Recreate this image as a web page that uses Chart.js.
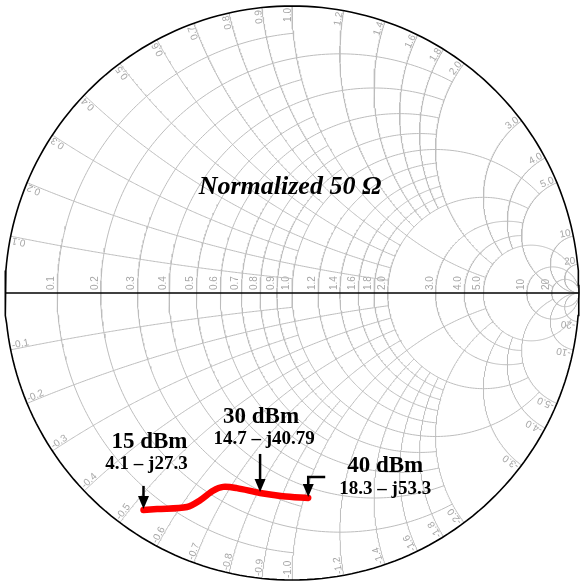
<!DOCTYPE html>
<html>
<head>
<meta charset="utf-8">
<script src="https://cdn.jsdelivr.net/npm/chart.js@4.4.0/dist/chart.umd.min.js"></script>
<style>
html, body { margin: 0; padding: 0; background: #fff; }
#wrap { width: 586px; height: 586px; }
</style>
</head>
<body>
<div id="wrap"><canvas id="smith"></canvas></div>
<script>
// reference impedance
var Z0 = 50;

// grid ticks (normalized) and how far each line runs
var resistanceTicks = [0.1, 0.2, 0.3, 0.4, 0.5, 0.6, 0.7, 0.8, 0.9, 1.0, 1.2, 1.4, 1.6, 1.8, 2.0, 3.0, 4.0, 5.0, 10, 20];
var resistanceReach = [1, 2, 1, 2, 1, 2, 1, 2, 1, 5, 2, 2, 2, 2, 5, 5, 5, 20, Infinity, Infinity];
var reactanceTicks = [0.1, 0.2, 0.3, 0.4, 0.5, 0.6, 0.7, 0.8, 0.9, 1.0, 1.2, 1.4, 1.6, 1.8, 2.0, 3.0, 4.0, 5.0, 10, 20];
var reactanceReach = [1, 2, 1, 2, 1, 2, 1, 2, 1, 5, 2, 2, 2, 2, 5, 5, 5, 20, Infinity, Infinity];

// measured load impedance (ohms) vs input power
var traceR = [2.8, 3.9, 6.4, 8.3, 10.7, 12.2, 13.3, 14.6, 15.9, 17.4];
var traceX = [-26.3, -27.6, -30.8, -31.9, -32.8, -33.9, -36.1, -40.5, -45.2, -51.0];

// highlighted points
var markerIndex = [0, 7, 9];
var markerPower = ['15 dBm', '30 dBm', '40 dBm'];
var markerImpedance = ['4.1 \u2013 j27.3', '14.7 \u2013 j40.79', '18.3 \u2013 j53.3'];

var titleText = 'Normalized 50 \u03A9';

// z = r + jx  ->  reflection coefficient
function gammaOf(r, x) {
  var d = (r + 1) * (r + 1) + x * x;
  return { x: (r * r + x * x - 1) / d, y: 2 * x / d };
}

function fmt(v) {
  var a = Math.abs(v);
  var s = a >= 10 ? String(a) : a.toFixed(1);
  return v < 0 ? '-' + s : s;
}

function resistanceCurve(r, xmax) {
  var c = r / (1 + r), rho = 1 / (1 + r);
  var start = 0;
  if (isFinite(xmax)) {
    var g = gammaOf(r, xmax);
    start = Math.atan2(g.y, g.x - c);
  }
  var pts = [], n = 240;
  for (var i = 0; i <= n; i++) {
    var a = start + (2 * Math.PI - 2 * start) * i / n;
    pts.push({ x: c + rho * Math.cos(a), y: rho * Math.sin(a) });
  }
  return pts;
}

function reactanceCurve(x, rmax) {
  var ax = Math.abs(x), cy = 1 / ax, rho = 1 / ax;
  var sign = x < 0 ? -1 : 1;
  var g0 = gammaOf(0, ax);
  var a0 = Math.atan2(g0.y - cy, g0.x - 1);
  if (a0 < 0) a0 += 2 * Math.PI;
  var a1 = 1.5 * Math.PI;
  if (isFinite(rmax)) {
    var g1 = gammaOf(rmax, ax);
    a1 = Math.atan2(g1.y - cy, g1.x - 1);
    if (a1 < 0) a1 += 2 * Math.PI;
  }
  var pts = [], n = 200;
  for (var i = 0; i <= n; i++) {
    var a = a0 + (a1 - a0) * i / n;
    pts.push({ x: 1 + rho * Math.cos(a), y: sign * (cy + rho * Math.sin(a)) });
  }
  return pts;
}

function lineSet(pts, color, width, order) {
  return {
    data: pts, showLine: true, borderColor: color, borderWidth: width,
    pointRadius: 0, fill: false, clip: false, order: order
  };
}

var datasets = [];

// trace on top
var tracePts = traceR.map(function(r, i) { return gammaOf(r / Z0, traceX[i] / Z0); });
datasets.push({
  data: tracePts, showLine: true, borderColor: '#ff0000', borderWidth: 6.5,
  borderCapStyle: 'round', borderJoinStyle: 'round', tension: 0.3,
  pointRadius: 0, fill: false, clip: false, order: 0
});

// outer circle and real axis
datasets.push(lineSet(resistanceCurve(0, Infinity), '#000', 1.6, 1));
datasets.push(lineSet([{ x: -1, y: 0 }, { x: 1, y: 0 }], '#000', 1.4, 2));

var gridColor = '#bdbdbd';
resistanceTicks.forEach(function(r, i) {
  datasets.push(lineSet(resistanceCurve(r, resistanceReach[i]), gridColor, 1, 3));
});
reactanceTicks.forEach(function(x, i) {
  datasets.push(lineSet(reactanceCurve(x, reactanceReach[i]), gridColor, 1, 3));
  datasets.push(lineSet(reactanceCurve(-x, reactanceReach[i]), gridColor, 1, 3));
});

var gridLabels = {
  id: 'gridLabels',
  beforeDatasetsDraw: function(chart) {
    var ctx = chart.ctx, sx = chart.scales.x, sy = chart.scales.y;
    var cx = sx.getPixelForValue(0), cy = sy.getPixelForValue(0);
    ctx.save();
    ctx.font = '10px "Liberation Sans", Arial, sans-serif';
    ctx.fillStyle = '#a6a6a6';
    ctx.textBaseline = 'alphabetic';

    resistanceTicks.forEach(function(r) {
      var px = sx.getPixelForValue((r - 1) / (r + 1));
      ctx.save();
      ctx.translate(px - 3, cy - 3);
      ctx.rotate(-Math.PI / 2);
      ctx.textAlign = 'left';
      ctx.fillText(fmt(r), 0, 0);
      ctx.restore();
    });

    reactanceTicks.forEach(function(x) {
      [x, -x].forEach(function(v) {
        var g = gammaOf(0, v);
        var px = sx.getPixelForValue(g.x), py = sy.getPixelForValue(g.y);
        var ang = Math.atan2(py - cy, px - cx);
        ctx.save();
        ctx.translate(px - 2 * Math.cos(ang), py - 2 * Math.sin(ang));
        if (v > 0) { ctx.rotate(ang); ctx.textAlign = 'right'; }
        else { ctx.rotate(ang + Math.PI); ctx.textAlign = 'left'; }
        ctx.fillText(fmt(v), 0, -1);
        ctx.restore();
      });
    });
    ctx.restore();
  }
};

function arrowHead(ctx, x, y) {
  ctx.beginPath();
  ctx.moveTo(x, y);
  ctx.lineTo(x - 5.5, y - 13);
  ctx.lineTo(x + 5.5, y - 13);
  ctx.closePath();
  ctx.fill();
}

var notes = {
  id: 'notes',
  afterDatasetsDraw: function(chart) {
    var ctx = chart.ctx, sx = chart.scales.x, sy = chart.scales.y;
    ctx.save();
    ctx.fillStyle = '#000';
    ctx.strokeStyle = '#000';
    ctx.textAlign = 'center';
    ctx.textBaseline = 'alphabetic';
    ctx.font = 'italic bold 26px "Liberation Serif", "Times New Roman", serif';
    ctx.fillText(titleText, sx.getPixelForValue(0) - 2, sy.getPixelForValue(0.345));

    // label layout relative to each marked point
    var layout = [
      { px: 6, py: -61, ix: 3, iy: -40, stem: 23, elbow: 0 },
      { px: 1, py: -69, ix: 4, iy: -48, stem: 38, elbow: 0 },
      { px: 77, py: -25, ix: 77, iy: -3, stem: 20, elbow: 17 }
    ];
    markerIndex.forEach(function(k, i) {
      var p = tracePts[k];
      var tx = sx.getPixelForValue(p.x), ty = sy.getPixelForValue(p.y) - 1;
      var L = layout[i];
      ctx.font = 'bold 23px "Liberation Serif", "Times New Roman", serif';
      ctx.fillText(markerPower[i], tx + L.px, ty + L.py);
      ctx.font = 'bold 19px "Liberation Serif", "Times New Roman", serif';
      ctx.fillText(markerImpedance[i], tx + L.ix, ty + L.iy);

      ctx.lineWidth = 2.5;
      ctx.beginPath();
      if (L.elbow) {
        ctx.moveTo(tx + L.elbow, ty - L.stem);
        ctx.lineTo(tx, ty - L.stem);
      } else {
        ctx.moveTo(tx, ty - L.stem);
      }
      ctx.lineTo(tx, ty - 10);
      ctx.stroke();
      arrowHead(ctx, tx, ty);
    });
    ctx.restore();
  }
};

new Chart(document.getElementById('smith'), {
  type: 'scatter',
  data: { datasets: datasets },
  options: {
    responsive: true,
    maintainAspectRatio: false,
    animation: false,
    layout: { padding: { left: 5, right: 7, top: 6, bottom: 6 } },
    scales: {
      x: { type: 'linear', min: -1, max: 1, display: false },
      y: { type: 'linear', min: -1, max: 1, display: false }
    },
    plugins: { legend: { display: false }, tooltip: { enabled: false } }
  },
  plugins: [gridLabels, notes]
});
</script>
</body>
</html>
